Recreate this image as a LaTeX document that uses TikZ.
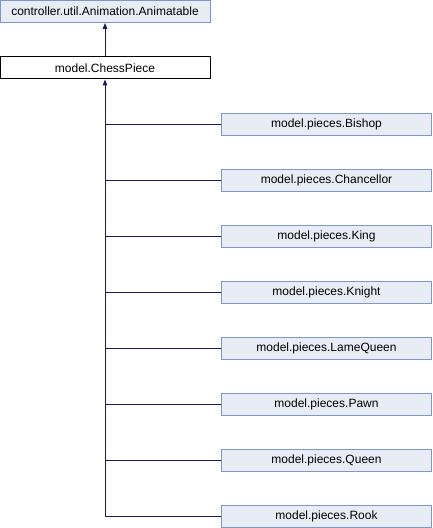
\documentclass[tikz,border=0pt]{standalone}
\usepackage{fontspec}
\setmainfont{Liberation Sans}
\usetikzlibrary{arrows.meta}
\definecolor{edgeblue}{HTML}{191970}
\definecolor{boxfill}{HTML}{E8ECF5}
\definecolor{boxline}{HTML}{7C95CA}
\tikzstyle{classbox}=[draw=boxline,fill=boxfill,line width=0.75pt,minimum width=157.5pt,minimum height=16.5pt,inner sep=0pt,font=\fontsize{9}{10}\selectfont]
\tikzstyle{thisbox}=[classbox,draw=black,fill=white]
\tikzstyle{inherit}=[edgeblue,line width=0.75pt,-{Triangle[length=4.5pt,width=3.5pt]}]
\tikzstyle{branch}=[edgeblue,line width=0.75pt]

\begin{document}
\begin{tikzpicture}[x=0.75pt,y=-0.75pt]
\useasboundingbox (0,0) rectangle (432,528);
\node[classbox] (animatable) at (105,11.5) {controller.util.Animation.Animatable};
\node[thisbox] (chesspiece) at (105,68) {model.ChessPiece};
\node[classbox] (bishop) at (326.5,124) {model.pieces.Bishop};
\node[classbox] (chancellor) at (326.5,180) {model.pieces.Chancellor};
\node[classbox] (king) at (326.5,236) {model.pieces.King};
\node[classbox] (knight) at (326.5,292) {model.pieces.Knight};
\node[classbox] (lamequeen) at (326.5,348) {model.pieces.LameQueen};
\node[classbox] (pawn) at (326.5,404) {model.pieces.Pawn};
\node[classbox] (queen) at (326.5,460) {model.pieces.Queen};
\node[classbox] (rook) at (326.5,516) {model.pieces.Rook};
% inheritance
\draw[inherit] (chesspiece.north) -- (animatable.south);
\draw[inherit] (rook.west) -| (chesspiece.south);
\draw[branch] (bishop.west) -- (bishop.west -| chesspiece.south);
\draw[branch] (chancellor.west) -- (chancellor.west -| chesspiece.south);
\draw[branch] (king.west) -- (king.west -| chesspiece.south);
\draw[branch] (knight.west) -- (knight.west -| chesspiece.south);
\draw[branch] (lamequeen.west) -- (lamequeen.west -| chesspiece.south);
\draw[branch] (pawn.west) -- (pawn.west -| chesspiece.south);
\draw[branch] (queen.west) -- (queen.west -| chesspiece.south);
\end{tikzpicture}
\end{document}
